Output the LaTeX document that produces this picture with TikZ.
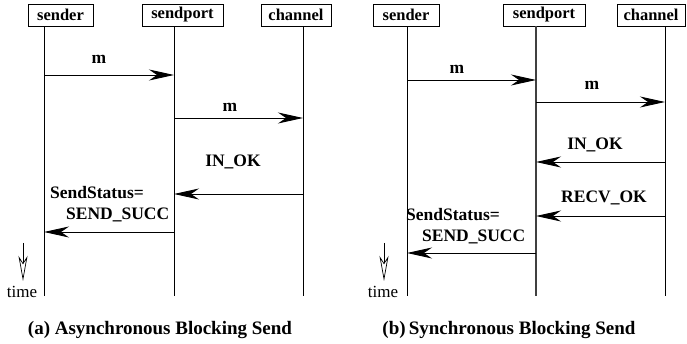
\documentclass[tikz,border=0pt]{standalone}
\usepackage{fontspec}
\setmainfont{Liberation Serif}
\usetikzlibrary{arrows.meta}
\begin{document}
\begin{tikzpicture}[x=1pt,y=-1pt,
  actor/.style={draw,line width=0.8pt,minimum height=22pt,inner sep=0pt,font=\fontsize{16.5}{18}\selectfont\bfseries},
  life/.style={line width=0.8pt},
  msg/.style={line width=0.9pt,-{Stealth[length=25pt,width=11pt,inset=8pt]}},
  lbl/.style={font=\fontsize{17.5}{19}\selectfont\bfseries,inner sep=0pt},
  timearr/.style={line width=0.7pt,-{Stealth[open,length=25pt,width=9pt,inset=7pt]}},
  captext/.style={font=\fontsize{19}{21}\selectfont\bfseries,inner sep=0pt}]
\useasboundingbox (0,0) rectangle (687,344);
% ---------- panel (a) ----------
\node[actor,minimum width=65pt] (aS) at (60.5,15) {sender};
\node[actor,minimum width=81pt] (aP) at (182.5,15) {sendport};
\node[actor,minimum width=70pt] (aC) at (296,15) {channel};
\coordinate (aSe) at (44,296);
\coordinate (aPe) at (174,296);
\coordinate (aCe) at (303,296);
\draw[life] (aS.south -| aSe) -- (aSe);
\draw[life] (aP.south -| aPe) -- (aPe);
\draw[life] (aC.south -| aCe) -- (aCe);
\draw[msg] (aSe |- 0,75) -- (aPe |- 0,75);
\node[lbl] (am1) at (99,59) {m};
\draw[msg] (aPe |- 0,118) -- (aCe |- 0,118);
\node[lbl] (am2) at (230,107) {m};
\node[lbl] (aok) at (233,162) {IN\_OK};
\draw[msg] (aCe |- 0,194) -- (aPe |- 0,194);
\node[lbl,anchor=west] (ass) at (50,193) {SendStatus=};
\node[lbl,anchor=west] (asc) at (66,215) {SEND\_SUCC};
\draw[msg] (aPe |- 0,232) -- (aSe |- 0,232);
\coordinate (at1) at (23,243);
\coordinate (at2) at (23,281);
\draw[timearr] (at1) -- (at2);
\node[font=\fontsize{17}{18}\selectfont,inner sep=0pt] (atime) at (22,292) {time};
\node[captext] (acap) at (160,330) {(a) Asynchronous Blocking Send};
% ---------- panel (b) ----------
\node[actor,minimum width=66pt] (bS) at (406,15) {sender};
\node[actor,minimum width=82pt] (bP) at (544,15) {sendport};
\node[actor,minimum width=68pt] (bC) at (651,15) {channel};
\coordinate (bSe) at (407,296);
\coordinate (bPe) at (536,296);
\coordinate (bCe) at (665,296);
\draw[life] (bS.south -| bSe) -- (bSe);
\draw[life,line width=1.2pt,black!75] (bP.south -| bPe) -- (bPe);
\draw[life] (bC.south -| bCe) -- (bCe);
\draw[msg] (bSe |- 0,80) -- (bPe |- 0,80);
\node[lbl] (bm1) at (457,69) {m};
\draw[msg] (bPe |- 0,102) -- (bCe |- 0,102);
\node[lbl] (bm2) at (592,85) {m};
\node[lbl] (bok) at (595,145) {IN\_OK};
\draw[msg] (bCe |- 0,162) -- (bPe |- 0,162);
\node[lbl] (brecv) at (604,198) {RECV\_OK};
\draw[msg] (bCe |- 0,216) -- (bPe |- 0,216);
\node[lbl,anchor=west] (bss) at (406,215) {SendStatus=};
\node[lbl,anchor=west] (bsc) at (422,237) {SEND\_SUCC};
\draw[msg] (bPe |- 0,253) -- (bSe |- 0,253);
\coordinate (bt1) at (384,243);
\coordinate (bt2) at (384,281);
\draw[timearr] (bt1) -- (bt2);
\node[font=\fontsize{17}{18}\selectfont,inner sep=0pt] (btime) at (383,292) {time};
\node[captext] (bcap) at (509,330) {(b)\,Synchronous Blocking Send};
\end{tikzpicture}
\end{document}
